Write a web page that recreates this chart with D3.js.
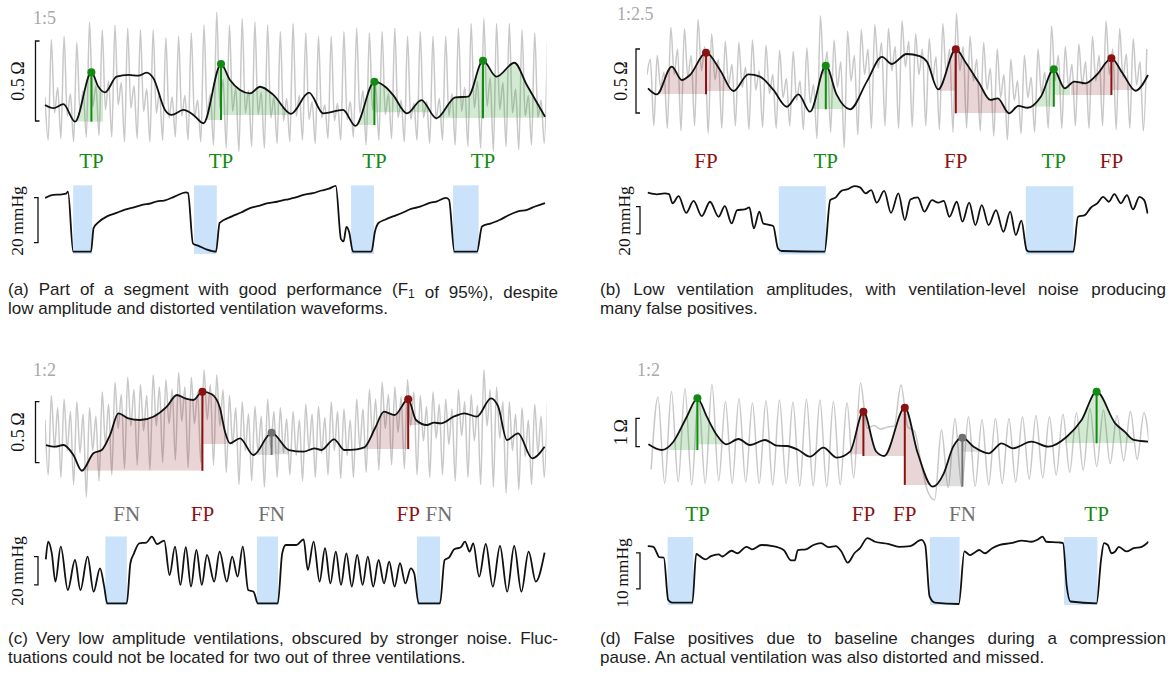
<!DOCTYPE html>
<html>
<head>
<meta charset="utf-8">
<script src="https://cdn.jsdelivr.net/npm/d3@7"></script>
<style>
  body { margin: 0; background: #fff; }
  svg { display: block; }
</style>
</head>
<body>
<svg id="fig" width="1174" height="675"></svg>
<script>
// ---------------------------------------------------------------
// Data: time t in seconds, impedance in ohm, pressure in mmHg
// ---------------------------------------------------------------

// ---- (a) ----
const aImpBlack = [[0,0.1],[0.42,0.08],[0.92,0.105],[1.5,-0.004],[2.32,0.305],[2.67,0.214],[3.0,0.179],[3.58,0.277],[4.17,0.288],[4.67,0.283],[5.08,0.302],[5.42,0.267],[6.0,0.069],[6.33,0.038],[6.92,0.069],[7.42,0.038],[7.92,-0.014],[8.8,0.356],[9.25,0.256],[9.75,0.194],[10.25,0.173],[10.75,0.214],[11.42,0.163],[12.3,0.045],[13.2,0.177],[13.91,0.048],[14.9,0.069],[15.52,-0.031],[16.47,0.246],[17.04,0.211],[17.4,0.163],[18.1,0.048],[18.82,0.131],[19.57,0.017],[20.52,0.148],[21.15,0.152],[21.9,0.377],[22.57,0.277],[23.47,0.364],[24.09,0.225],[25.0,0.027]];
const aImpGrayStart = 0;
const aImpGrayStep = 0.159;
const aImpGray = [0.15,-0.12,
 0.51,0.05,0.21,-0.11, 0.53,0.03,0.17,-0.13, 0.49,0.06,0.19,-0.10, 0.62,0.09,0.22,-0.09,
 0.57,0.07,0.25,-0.10, 0.60,0.10,0.24,-0.13, 0.58,0.08,0.22,-0.11, 0.57,0.06,0.20,-0.13,
 0.57,0.05,0.18,-0.12, 0.52,0.02,0.15,-0.10, 0.53,0.03,0.16,-0.12, 0.55,0.02,0.13,-0.13,
 0.60,0.04,0.17,-0.15, 0.68,0.08,0.26,-0.17, 0.60,0.06,0.21,-0.19, 0.64,0.05,0.19,-0.16,
 0.62,0.04,0.18,-0.17, 0.60,0.02,0.15,-0.14, 0.56,0.00,0.14,-0.13, 0.61,0.03,0.16,-0.12,
 0.55,0.01,0.12,-0.14, 0.53,0.02,0.10,-0.11, 0.53,0.00,0.11,-0.12, 0.56,0.01,0.12,-0.10,
 0.58,0.05,0.19,-0.15, 0.55,0.07,0.22,-0.12, 0.56,0.04,0.17,-0.11, 0.58,0.02,0.13,-0.13,
 0.53,0.01,0.11,-0.12, 0.56,0.02,0.12,-0.14, 0.53,0.01,0.14,-0.12, 0.53,0.03,0.17,-0.15,
 0.58,0.06,0.21,-0.16, 0.61,0.08,0.25,-0.17, 0.64,0.09,0.27,-0.19, 0.61,0.07,0.24,-0.16,
 0.61,0.05,0.20,-0.18, 0.57,0.03,0.16,-0.15, 0.55,0.02,0.13,-0.14, 0.50];
const aPressure = [[0,23.9],[0.43,25.3],[0.75,25.4],[1.05,25.8],[1.15,26.7],[1.41,0],[2.3,0],[2.43,10.5],[2.65,12.9],[3.1,15.7],[3.5,17.0],[4.0,18.7],[4.4,19.6],[4.9,20.9],[5.3,21.5],[5.6,22.4],[5.95,22.7],[6.5,24.6],[7.04,26.4],[7.15,26.1],[7.4,3.6],[7.65,2.7],[8.1,0.9],[8.55,0],[8.73,12.8],[9.35,15.7],[9.8,17.4],[10.25,19.4],[10.7,20.4],[11.15,21.6],[11.6,22.2],[12.04,23.1],[12.5,24.0],[12.93,25.3],[13.4,26.0],[13.82,27.2],[14.2,28.0],[14.54,29.3],[14.8,5.6],[14.93,4.6],[15.07,11],[15.2,9],[15.4,0],[16.32,0],[16.5,9],[16.68,12.8],[17.0,14.2],[17.4,15.7],[17.85,17.2],[18.3,19],[18.75,20.0],[19.2,21.6],[19.6,22.4],[20.04,23.9],[20.2,23.1],[20.47,0],[21.6,0],[21.85,11.2],[22.3,12.6],[22.75,14.2],[23.2,16.3],[23.65,17.9],[24.1,18.6],[24.5,20.1],[25.0,21.6]];
const aPauses = [[1.41,2.36],[7.45,8.59],[15.3,16.45],[20.4,21.68]];
const aEvents = [
  {kind:'TP', t:2.32,  marker:true, left:1.5,   right:2.9,  baseL:-0.004, baseR:-0.004},
  {kind:'TP', t:8.8,   marker:true, left:7.92,  right:12.3, baseL:0.006,  baseR:0.038},
  {kind:'TP', t:16.47, marker:true, left:15.52, right:19.5, baseL:-0.025, baseR:0.054},
  {kind:'TP', t:21.9,  marker:true, left:19.57, right:25,   baseL:0.017,  baseR:0.02}
];
const aCaption = [
  ['(a) Part of a segment with good performance (F', {sub:'1'}, ' of 95%), despite'],
  ['low amplitude and distorted ventilation waveforms.']
];

// ---- (b) ----
const bImpBlack = [[0.05,0.193],[0.49,0.146],[1.24,0.362],[1.74,0.258],[2.15,0.297],[2.95,0.471],[3.65,0.336],[4.32,0.172],[5.07,0.302],[5.65,0.284],[6.32,0.18],[6.99,0.049],[7.57,0.146],[8.15,0.01],[8.94,0.37],[9.49,0.141],[10.15,0.029],[10.99,0.245],[11.75,0.439],[12.24,0.383],[12.98,0.461],[13.63,0.445],[14.0,0.401],[14.56,0.185],[15.44,0.498],[15.96,0.388],[16.61,0.232],[17.17,0.102],[17.54,0.115],[18.1,-0.002],[18.57,0.055],[19.03,0.041],[19.69,0.127],[20.34,0.341],[20.89,0.193],[21.36,0.245],[21.92,0.232],[22.48,0.297],[23.22,0.427],[23.78,0.31],[24.43,0.174],[25.05,0.297]];
const bImpGrayStart = 0;
const bImpGrayStep = 0.17;
const bImpGray = [0.3,0.42,-0.1,
 0.45,0.20,0.32,-0.12, 0.67,0.30,0.50,-0.14, 0.66,0.28,0.45,-0.10, 0.73,0.33,0.52,-0.16,
 0.62,0.26,0.42,-0.12, 0.56,0.22,0.38,-0.10, 0.55,0.20,0.36,-0.13, 0.57,0.18,0.33,-0.11,
 0.53,0.15,0.30,-0.12, 0.49,0.12,0.27,-0.10, 0.48,0.10,0.25,-0.13, 0.51,0.08,0.22,-0.20,
 0.76,0.30,0.48,-0.15, 0.57,0.20,0.40,-0.27, 0.64,0.25,0.45,-0.17, 0.65,0.30,0.50,-0.12,
 0.69,0.35,0.55,-0.10, 0.66,0.33,0.52,-0.12, 0.72,0.36,0.56,-0.11, 0.62,0.30,0.50,-0.10,
 0.58,0.26,0.44,-0.13, 0.70,0.30,0.50,-0.15, 0.78,0.33,0.52,-0.12, 0.60,0.25,0.42,-0.14,
 0.55,0.18,0.35,-0.18, 0.50,0.12,0.30,-0.21, 0.42,0.10,0.25,-0.16, 0.45,0.12,0.28,-0.15,
 0.50,0.15,0.32,-0.12, 0.68,0.25,0.45,-0.12, 0.52,0.20,0.38,-0.10, 0.54,0.22,0.40,-0.12,
 0.60,0.25,0.45,-0.10, 0.72,0.30,0.50,-0.13, 0.66,0.28,0.46,-0.12, 0.58,0.22,0.40,-0.14, 0.50];
const bPressure = [[0.04,43.2],[0.5,42],[0.88,42.7],[1.1,42.2],[1.28,35.4],[1.58,40.7],[1.96,28.5],[2.33,37.3],[2.74,26.1],[3.15,36.6],[3.58,25.6],[3.89,33.4],[4.23,20.7],[4.51,30.5],[4.88,31],[5.12,32.4],[5.34,17.1],[5.62,29.3],[5.81,20.7],[6.0,20],[6.31,18.8],[6.55,2.4],[6.74,0.5],[8.88,0],[9.16,37.8],[9.44,39.8],[9.72,44.6],[10.0,45.6],[10.37,48],[10.65,47.1],[10.93,42.7],[11.21,45.1],[11.49,35.9],[11.86,44.6],[12.2,28.5],[12.57,42.7],[12.89,23.2],[13.17,38.3],[13.54,39.8],[13.87,29.3],[14.25,37.8],[14.56,35.9],[14.84,37.3],[15.12,25.6],[15.49,36.6],[15.77,22],[16.11,35.9],[16.42,19.5],[16.74,34.1],[17.08,19.5],[17.45,30.5],[17.82,14.6],[18.16,29.3],[18.44,12.2],[18.72,22.7],[18.98,1.2],[19.12,0],[21.32,0],[21.55,25.6],[21.89,26.8],[22.2,32.4],[22.51,35.4],[22.81,40.2],[23.09,36.6],[23.37,42.2],[23.69,35.4],[24.0,41.5],[24.3,31],[24.62,40.2],[24.86,37.8],[25.03,28]];
const bPauses = [[6.59,8.94],[18.94,21.32]];
const bEvents = [
  {kind:'FP', t:2.95,  marker:true, left:0.6,  right:4.15, baseL:0.146, baseR:0.172},
  {kind:'TP', t:8.94,  marker:true, left:8.2,  right:9.8,  baseL:0.029, baseR:0.029},
  {kind:'FP', t:15.44, marker:true, left:14.6, right:18.0, baseL:0.174, baseR:-0.002},
  {kind:'TP', t:20.34, marker:true, left:19.3, right:21.15, baseL:0.049, baseR:0.141},
  {kind:'FP', t:23.22, marker:true, left:21.2, right:24.5, baseL:0.141, baseR:0.18}
];
const bCaption = [
  ['(b) Low ventilation amplitudes, with ventilation-level noise producing'],
  ['many false positives.']
];

// ---- (c) ----
const cImpBlack = [[0.05,0.145],[0.5,0.131],[0.92,0.145],[1.42,0.063],[1.84,-0.066],[2.42,0.077],[2.84,0.104],[3.25,0.227],[3.67,0.405],[4.17,0.364],[4.75,0.35],[5.42,0.377],[6.09,0.459],[6.59,0.555],[7.0,0.528],[7.42,0.514],[7.87,0.582],[8.34,0.561],[8.75,0.446],[9.0,0.254],[9.25,0.159],[9.75,0.2],[10.42,0.063],[11.33,0.245],[12.2,0.104],[12.93,0.09],[13.47,0.118],[13.82,0.104],[14.45,0.192],[14.98,0.104],[15.6,0.11],[15.97,0.126],[16.5,0.282],[16.95,0.418],[17.48,0.391],[18.16,0.52],[18.55,0.35],[19.09,0.309],[19.45,0.328],[19.8,0.323],[20.43,0.377],[20.97,0.405],[21.59,0.377],[22.3,0.528],[22.66,0.459],[23.1,0.186],[23.65,0.241],[24.36,0.036],[24.98,0.131]];
const cImpGrayStart = 0;
const cImpGrayStep = 0.159;
const cImpGray = [0.35,-0.1,
 0.55,0.12,0.45,-0.12, 0.52,0.10,0.42,-0.18, 0.50,0.08,0.40,-0.28, 0.45,0.10,0.38,-0.15,
 0.58,0.15,0.48,-0.10, 0.66,0.28,0.56,-0.05, 0.70,0.30,0.60,-0.02, 0.64,0.26,0.55,-0.06,
 0.72,0.30,0.62,0.00, 0.68,0.32,0.60,0.02, 0.74,0.34,0.62,-0.04, 0.70,0.32,0.58,0.00,
 0.76,0.35,0.64,-0.02, 0.72,0.30,0.60,-0.08, 0.55,0.15,0.45,-0.18, 0.50,0.10,0.40,-0.15,
 0.46,0.08,0.38,-0.20, 0.52,0.12,0.42,-0.12, 0.45,0.08,0.36,-0.10, 0.42,0.06,0.35,-0.15,
 0.48,0.10,0.40,-0.12, 0.46,0.08,0.37,-0.10, 0.50,0.10,0.42,-0.13, 0.44,0.06,0.35,-0.12,
 0.52,0.12,0.44,-0.08, 0.60,0.22,0.52,-0.06, 0.66,0.28,0.56,-0.02, 0.62,0.25,0.54,-0.05,
 0.68,0.30,0.58,-0.10, 0.55,0.18,0.46,-0.12, 0.58,0.20,0.48,-0.10, 0.52,0.15,0.44,-0.15,
 0.60,0.22,0.50,-0.12, 0.56,0.18,0.47,-0.18, 0.76,0.30,0.60,-0.20, 0.62,0.20,0.50,-0.25,
 0.50,0.10,0.40,-0.22, 0.45,0.05,0.35,-0.18, 0.48,0.08,0.38,-0.12, 0.50];
const cPressure = [[0.04,31.1],[0.16,43.6],[0.34,35.3],[0.52,15.3],[0.79,40],[1.14,9.4],[1.5,30.6],[1.77,9.4],[2.13,33],[2.43,8.2],[2.75,24.7],[2.96,11.8],[3.11,0],[4.09,0],[4.27,28.3],[4.45,35.3],[4.71,42.4],[5.07,42.9],[5.34,47.1],[5.61,41.9],[5.96,44.3],[6.23,20],[6.5,40],[6.77,13],[7.04,39.6],[7.3,11.8],[7.57,37.7],[7.84,13],[8.1,34.2],[8.46,15.3],[8.73,36.5],[9.09,15.3],[9.36,33],[9.63,18.8],[9.89,40],[10.16,9.4],[10.43,8.2],[10.64,0],[11.64,0],[11.86,35.3],[12.04,41.2],[12.57,41.2],[12.93,45.2],[13.14,23.6],[13.43,43.6],[13.73,15.3],[14.0,38.9],[14.27,14.1],[14.54,36.5],[14.8,13],[15.07,35.3],[15.34,11.8],[15.61,34.2],[15.88,13],[16.14,33],[16.41,11.8],[16.68,30.6],[16.95,14.1],[17.21,29.4],[17.48,11.8],[17.75,28.3],[18.02,14.1],[18.29,24.7],[18.46,21.2],[18.68,0],[19.75,0],[19.98,30.6],[20.21,32.5],[20.46,38.2],[20.79,39.6],[21.0,43.6],[21.23,36.5],[21.41,42.4],[21.71,18.8],[22.04,41.9],[22.39,11.8],[22.75,40.5],[23.11,8.2],[23.46,40.5],[23.82,8.2],[24.18,36.5],[24.54,15.3],[24.98,35.8]];
const cPauses = [[3.02,4.09],[10.6,11.65],[18.6,19.75]];
const cEvents = [
  {kind:'FN', t:4.09,  marker:false},
  {kind:'FP', t:7.87,  marker:true, left:1.84,  right:9.08,  baseL:-0.066, baseR:0.153},
  {kind:'FN', t:11.33, marker:true, left:10.42, right:12.2,  baseL:0.063,  baseR:0.07},
  {kind:'FP', t:18.16, marker:true, left:15.8,  right:18.73, baseL:0.112,  baseR:0.309},
  {kind:'FN', t:19.7,  marker:false}
];
const cCaption = [
  ['(c) Very low amplitude ventilations, obscured by stronger noise. Fluc-'],
  ['tuations could not be located for two out of three ventilations.']
];

// ---- (d) ----
const dImpBlack = [[0.07,0.085],[0.74,-0.117],[1.32,0.177],[1.99,1.06],[2.52,1.71],[2.99,1.06],[3.49,0.413],[3.95,0.085],[4.57,0.272],[5.15,0.06],[5.9,0.237],[6.49,0.035],[6.99,0.025],[7.57,-0.117],[8.15,-0.353],[8.82,-0.035],[9.49,-0.389],[10.15,-0.177],[10.82,1.237],[11.45,-0.16],[11.86,-0.329],[12.89,1.378],[13.54,-0.233],[14.28,-1.413],[14.84,-0.94],[15.31,0.0],[15.77,0.318],[16.33,0.0],[17.08,-0.233],[17.73,0.12],[18.29,-0.057],[19.22,0.177],[20.06,0.0],[20.99,0.353],[21.73,0.943],[22.48,1.943],[23.41,0.827],[23.88,0.53],[24.34,0.237],[25.05,0.177]];
const dImpGrayStart = 0.21;
const dImpGrayStep = 0.3375;
const dImpGray = [-0.8,
 1.75,-1.3, 1.95,-1.24, 2.05,-1.35, 1.85,-1.3, 2.2,-1.2, 1.6,-1.3, 1.7,-1.25, 1.55,-1.3,
 1.62,-1.35, 1.65,-1.3, 1.58,-1.4, 1.68,-1.38, 1.65,-1.42, 1.6,-1.35, 1.55,-1.1,
 2.25,0.65, 0.75,0.62, 0.7,0.72, 2.18,0.7, 0.55,-0.6, -1.6,-1.88,
 0.6,-1.45, 1.0,-1.42, 1.06,-1.4, 0.95,-1.35, 1.0,-1.3, 1.0,-1.25, 1.06,-1.15, 1.1,-1.1,
 1.06,-1.0, 1.15,-0.9, 1.2,-0.82, 1.35,-0.7, 1.3,-0.6, 1.1,-0.5, 1.25,-0.45, 1.2,-0.4];
const dPressure = [[0.04,15.9],[0.32,15.7],[0.5,13.9],[0.6,12.8],[0.84,12.7],[1.06,0.9],[1.25,0.2],[2.27,0.2],[2.46,13.7],[2.64,13.1],[2.92,12.2],[3.2,13.1],[3.58,13.6],[3.76,13],[4.23,14.6],[4.51,13.9],[4.97,15.7],[5.25,15],[5.72,16.2],[6.28,15.9],[6.83,14.8],[7.21,11.9],[7.39,11.9],[7.54,14.8],[7.95,15],[8.32,16.2],[8.7,16.7],[9.07,15.6],[9.44,15.9],[9.72,14.4],[10.04,11.3],[10.37,13.9],[10.65,15.3],[11.02,18.1],[11.4,17.1],[12.05,16.5],[12.61,15.7],[13.17,15.9],[13.72,17.6],[13.91,16.2],[14.13,1.9],[14.38,0.2],[15.59,-0.2],[15.87,14.4],[16.15,13.4],[16.33,13.9],[16.61,14.8],[16.89,13.9],[17.26,15.3],[17.64,16.2],[18.19,16.7],[18.75,17.4],[19.22,17.1],[19.5,17.6],[19.78,18.5],[19.96,17.1],[20.61,16.9],[20.8,16.7],[20.99,4.6],[21.17,0.5],[22.48,0],[22.7,12],[22.85,16.7],[23.04,16.2],[23.22,13.9],[23.41,14.4],[23.59,15.7],[23.97,14.4],[24.34,15.3],[24.71,15.6],[25.08,17.1]];
const dPauses = [[1.03,2.31],[14.14,15.63],[20.85,22.52]];
const dEvents = [
  {kind:'TP', t:2.52,  marker:true, left:1.07,  right:3.73,  baseL:-0.117, baseR:0.085},
  {kind:'FP', t:10.82, marker:true, left:10.15, right:11.9,  baseL:-0.27,  baseR:-0.33},
  {kind:'FP', t:12.89, marker:true, left:11.86, right:14.28, baseL:-0.33,  baseR:-1.35},
  {kind:'FN', t:15.77, marker:true, left:14.28, right:16.9,  baseL:-1.41,  baseR:-0.177},
  {kind:'TP', t:22.48, marker:true, left:20.9,  right:24.34, baseL:0.12,   baseR:0.12}
];
const dCaption = [
  ['(d) False positives due to baseline changes during a compression'],
  ['pause. An actual ventilation was also distorted and missed.']
];

// ---------------------------------------------------------------
// Panel configuration (data + placement on the page)
// ---------------------------------------------------------------
const panels = [
  { id:'a', ratio:'1:5', black:aImpBlack, gray:aImpGray, grayStart:aImpGrayStart, grayStep:aImpGrayStep,
    pressure:aPressure, pauses:aPauses, events:aEvents, caption:aCaption,
    impDomain:[0,0.5], impBar:0.5, impLabel:'0.5\u2009\u03A9',
    presDomain:[0,20], presBar:[4,24], presLabel:'20\u2009mmHg', presExtent:[-1,29.5],
    L:{ x:[45,545], imp:[121,41], pres:[251.7,206.7], impBarX:35.5, presBarX:38,
        impLab:[18,81], presLab:[17,221], ratio:[33,24], eventY:161,
        cap:{x:8, w:550, y:[295,314]} } },
  { id:'b', ratio:'1:2.5', black:bImpBlack, gray:bImpGray, grayStart:bImpGrayStart, grayStep:bImpGrayStep,
    pressure:bPressure, pauses:bPauses, events:bEvents, caption:bCaption,
    impDomain:[0,0.5], impBar:0.5, impLabel:'0.5\u2009\u03A9',
    presDomain:[0,20], presBar:[13,33], presLabel:'20\u2009mmHg', presExtent:[-2,48],
    L:{ x:[647,1147], imp:[113,49], pres:[251.7,224.4], impBarX:636, presBarX:640,
        impLab:[621,81], presLab:[624,221], ratio:[617,20], eventY:161,
        cap:{x:600, w:566, y:[295,314]} } },
  { id:'c', ratio:'1:2', black:cImpBlack, gray:cImpGray, grayStart:cImpGrayStart, grayStep:cImpGrayStep,
    pressure:cPressure, pauses:cPauses, events:cEvents, caption:cCaption,
    impDomain:[0,0.5], impBar:0.5, impLabel:'0.5\u2009\u03A9',
    presDomain:[0,20], presBar:[13,33], presLabel:'20\u2009mmHg', presExtent:[-1.2,47.2],
    L:{ x:[45,545], imp:[462.7,401.7], pres:[603.3,575], impBarX:35.5, presBarX:38,
        impLab:[18,432], presLab:[17,571], ratio:[33,376], eventY:514,
        cap:{x:8, w:550, y:[644,662.5]} } },
  { id:'d', ratio:'1:2', black:dImpBlack, gray:dImpGray, grayStart:dImpGrayStart, grayStep:dImpGrayStep,
    pressure:dPressure, pauses:dPauses, events:dEvents, caption:dCaption,
    impDomain:[0,1], impBar:1, impLabel:'1\u2009\u03A9',
    presDomain:[0,10], presBar:[4,14], presLabel:'10\u2009mmHg', presExtent:[-0.5,18.4],
    L:{ x:[647,1147], imp:[446.7,418.4], pres:[603.3,567.3], impBarX:636, presBarX:640,
        impLab:[621,432], presLab:[622,573], ratio:[637,376], eventY:514,
        cap:{x:600, w:566, y:[644,662.5]} } }
];

const KIND_COLOR = { TP:'#138a13', FP:'#8b1212', FN:'#707070' };
const KIND_FILL  = { TP:'rgba(30,150,30,0.20)', FP:'rgba(140,30,30,0.19)', FN:'rgba(90,90,90,0.20)' };
const SERIF = '"Liberation Serif","Times New Roman",serif';
const SANS = '"Liberation Sans",Arial,sans-serif';

const svg = d3.select('#fig');
const defs = svg.append('defs');

function bracket(g, x, y0, y1, dir) {
  // dir = +1 : ticks point right, -1 : ticks point left
  const tick = 4 * dir;
  g.append('path')
    .attr('d', `M${x + tick},${y0}H${x}V${y1}H${x + tick}`)
    .attr('fill', 'none').attr('stroke', '#111').attr('stroke-width', 1.3);
}

function drawPanel(P) {
  const L = P.L;
  const x = d3.scaleLinear().domain([0, 25]).range(L.x);
  const yI = d3.scaleLinear().domain(P.impDomain).range(L.imp);
  const yP = d3.scaleLinear().domain(P.presDomain).range(L.pres);
  const g = svg.append('g').attr('class', 'panel-' + P.id);

  const clipId = 'trace-' + P.id;
  defs.append('clipPath').attr('id', clipId)
    .append('rect').attr('x', L.x[0]).attr('y', 0)
    .attr('width', L.x[1] - L.x[0] + 1.5).attr('height', 675);

  // ratio annotation
  g.append('text').attr('x', L.ratio[0]).attr('y', L.ratio[1])
    .attr('font-family', SERIF).attr('font-size', 18).attr('fill', '#a9a9a9')
    .text(P.ratio);

  // scale bars
  bracket(g, L.impBarX, yI(P.impBar), yI(0), 1);
  g.append('text')
    .attr('transform', `translate(${L.impLab[0]},${L.impLab[1]}) rotate(-90)`)
    .attr('text-anchor', 'middle').attr('dominant-baseline', 'central')
    .attr('font-family', SERIF).attr('font-size', 18).attr('fill', '#111')
    .text(P.impLabel);
  bracket(g, L.presBarX, yP(P.presBar[1]), yP(P.presBar[0]), -1);
  g.append('text')
    .attr('transform', `translate(${L.presLab[0]},${L.presLab[1]}) rotate(-90)`)
    .attr('text-anchor', 'middle').attr('dominant-baseline', 'central')
    .attr('font-family', SERIF).attr('font-size', 17.5).attr('fill', '#111')
    .text(P.presLabel);

  // compressed impedance trace (light grey)
  const grayPts = P.gray.map((v, i) => [P.grayStart + i * P.grayStep, v]);
  const lineI = d3.line().x(d => x(d[0])).y(d => yI(d[1])).curve(d3.curveMonotoneX);
  g.append('path').datum(grayPts).attr('d', lineI)
    .attr('fill', 'none').attr('stroke', '#c8c8c8').attr('stroke-width', 1.5)
    .attr('stroke-linejoin', 'round').attr('clip-path', `url(#${clipId})`);

  // shaded prominence regions
  P.events.filter(e => e.marker).forEach((e, i) => {
    const id = `shade-${P.id}-${i}`;
    const cp = defs.append('clipPath').attr('id', id);
    [[e.left, e.t, e.baseL], [e.t, e.right, e.baseR]].forEach(([l, r, b]) => {
      cp.append('rect').attr('x', x(l)).attr('y', 0)
        .attr('width', Math.max(0, x(r) - x(l))).attr('height', yI(b));
    });
    const lowBase = Math.min(e.baseL, e.baseR);
    const area = d3.area().x(d => x(d[0])).y0(yI(lowBase)).y1(d => yI(d[1]))
      .curve(d3.curveMonotoneX);
    g.append('path').datum(P.black).attr('d', area)
      .attr('fill', KIND_FILL[e.kind]).attr('clip-path', `url(#${id})`);
  });

  // filtered impedance (black)
  g.append('path').datum(P.black).attr('d', lineI)
    .attr('fill', 'none').attr('stroke', '#111').attr('stroke-width', 1.8)
    .attr('stroke-linejoin', 'round');

  // peak markers
  P.events.filter(e => e.marker).forEach(e => {
    const pk = P.black.find(d => Math.abs(d[0] - e.t) < 1e-6);
    const lowBase = Math.min(e.baseL, e.baseR);
    g.append('line').attr('x1', x(e.t)).attr('x2', x(e.t))
      .attr('y1', yI(pk[1])).attr('y2', yI(lowBase))
      .attr('stroke', KIND_COLOR[e.kind]).attr('stroke-width', 2);
    g.append('circle').attr('cx', x(e.t)).attr('cy', yI(pk[1])).attr('r', 4)
      .attr('fill', KIND_COLOR[e.kind]);
  });

  // event labels
  g.selectAll('text.ev').data(P.events).join('text').attr('class', 'ev')
    .attr('x', e => x(e.t)).attr('y', L.eventY)
    .attr('text-anchor', 'middle').attr('dominant-baseline', 'central')
    .attr('font-family', SERIF).attr('font-size', 21)
    .attr('fill', e => KIND_COLOR[e.kind])
    .text(e => e.kind);

  // compression pauses
  g.selectAll('rect.pause').data(P.pauses).join('rect').attr('class', 'pause')
    .attr('x', d => x(d[0])).attr('width', d => x(d[1]) - x(d[0]))
    .attr('y', yP(P.presExtent[1])).attr('height', yP(P.presExtent[0]) - yP(P.presExtent[1]))
    .attr('fill', '#cbe3fa');

  // pressure trace
  const lineP = d3.line().x(d => x(d[0])).y(d => yP(d[1])).curve(d3.curveMonotoneX);
  g.append('path').datum(P.pressure).attr('d', lineP)
    .attr('fill', 'none').attr('stroke', '#111').attr('stroke-width', 1.8)
    .attr('stroke-linejoin', 'round').attr('clip-path', `url(#${clipId})`);

  // caption (justified except for the last line)
  P.caption.forEach((segs, li) => {
    const t = g.append('text').attr('x', L.cap.x).attr('y', L.cap.y[li])
      .attr('font-family', SANS).attr('font-size', 17).attr('fill', '#1e1e1e');
    let spaces = 0;
    segs.forEach(s => {
      if (typeof s === 'string') {
        t.append('tspan').text(s);
        spaces += (s.match(/ /g) || []).length;
      } else {
        t.append('tspan').attr('font-size', 12).attr('dy', 3).text(s.sub);
        t.append('tspan').attr('dy', -3).text('');
      }
    });
    if (li < P.caption.length - 1 && spaces > 0) {
      const natural = t.node().getComputedTextLength();
      t.attr('word-spacing', ((L.cap.w - natural) / spaces).toFixed(2));
    }
  });
}

panels.forEach(drawPanel);
</script>
</body>
</html>
